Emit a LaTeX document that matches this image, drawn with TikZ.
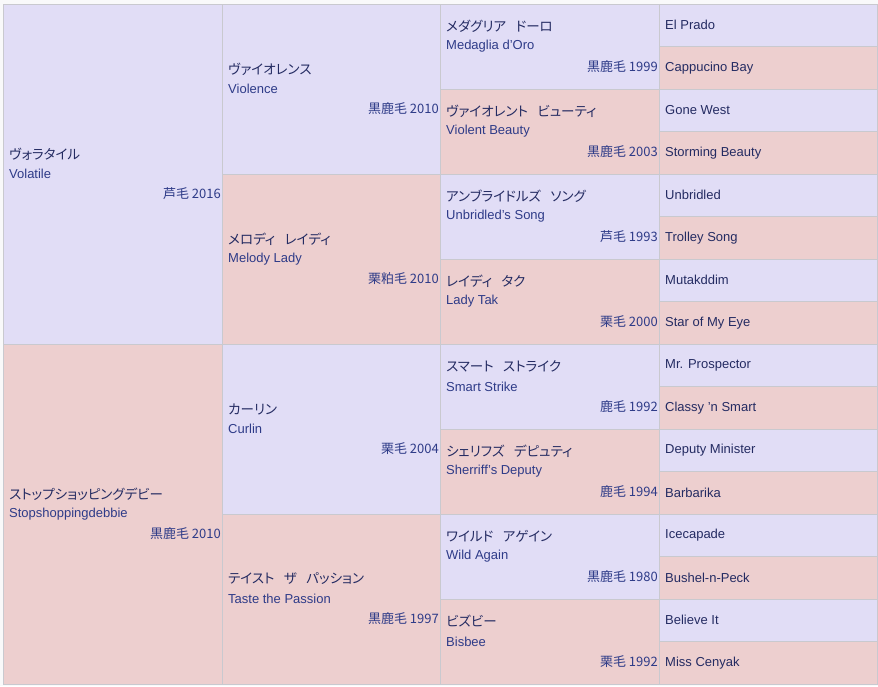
\documentclass[tikz,border=0pt]{standalone}
\usepackage{fontspec}
\setmainfont{Liberation Sans}
\newfontfamily\jpf[RawFeature=+palt]{Noto Sans CJK JP}
\newfontfamily\jpy{Noto Sans CJK JP}
\definecolor{lav}{HTML}{E1DDF6}
\definecolor{pnk}{HTML}{EDCFCF}
\definecolor{gridc}{HTML}{C9C9CF}
\definecolor{jtxt}{HTML}{242B62}
\definecolor{etxt}{HTML}{2E3B88}
\definecolor{pagebg}{HTML}{F9F9FA}
\newcommand\jsp{\hspace{0.7em}}
\tikzset{
  cellbox/.style={draw=gridc, line width=1pt, inner sep=0pt, outer sep=0pt},
  jpname/.style={anchor=west, inner sep=0pt, text=jtxt, font=\jpf\fontsize{13.5}{15}\selectfont},
  enname/.style={anchor=west, inner sep=0pt, text=etxt, font=\fontsize{13}{15}\selectfont},
  yeartxt/.style={anchor=east, inner sep=0pt, text=etxt, font=\jpy\fontsize{13}{15}\selectfont},
  leaftxt/.style={anchor=west, inner sep=0pt, text=jtxt, font=\fontsize{13}{15}\selectfont}
}
% #1 name, #2 x1, #3 x2, #4 y1, #5 y2, #6 fill, #7 jp, #8 en, #9 year
\newcommand\pcell[9]{%
  \node[cellbox, fill=#6, minimum width={(#3-#2)*1pt}, minimum height={(#5-#4)*1pt}] (#1) at ({(#2+#3)/2},{(#4+#5)/2}) {};
  \node[jpname] (#1j) at ({#2+6},{(#4+#5)/2-20}) {#7};
  \node[enname] (#1e) at ({#2+6},{(#4+#5)/2}) {#8};
  \node[yeartxt] (#1y) at ({#3-1},{(#4+#5)/2+20}) {#9};
}
% #1 name, #2 y1, #3 y2, #4 fill, #5 text
\newcommand\lcell[5]{%
  \node[cellbox, fill=#4, minimum width=218pt, minimum height={(#3-#2)*1pt}] (#1) at (768,{(#2+#3)/2}) {};
  \node[leaftxt] (#1t) at (665,{(#2+#3)/2}) {#5};
}
\begin{document}
\begin{tikzpicture}[x=1pt,y=-1pt]
\fill[pagebg] (0,0) rectangle (878,686);
\useasboundingbox (0,0) rectangle (878,686);
% generation 1
\pcell{a}{3}{222}{4}{344}{lav}{ヴォラタイル}{Volatile}{芦毛 2016}
\pcell{b}{3}{222}{344}{684}{pnk}{ストップショッピングデビー}{Stopshoppingdebbie}{黒鹿毛 2010}
% generation 2
\pcell{aa}{222}{440}{4}{174}{lav}{ヴァイオレンス}{Violence}{黒鹿毛 2010}
\pcell{ab}{222}{440}{174}{344}{pnk}{メロディ\jsp レイディ}{Melody Lady}{栗粕毛 2010}
\pcell{ba}{222}{440}{344}{514}{lav}{カーリン}{Curlin}{栗毛 2004}
\pcell{bb}{222}{440}{514}{684}{pnk}{テイスト\jsp ザ\jsp パッション}{Taste the Passion}{黒鹿毛 1997}
% generation 3
\pcell{aaa}{440}{659}{4}{89}{lav}{メダグリア\jsp ドーロ}{Medaglia d'Oro}{黒鹿毛 1999}
\pcell{aab}{440}{659}{89}{174}{pnk}{ヴァイオレント\jsp ビューティ}{Violent Beauty}{黒鹿毛 2003}
\pcell{aba}{440}{659}{174}{259}{lav}{アンブライドルズ\jsp ソング}{Unbridled's Song}{芦毛 1993}
\pcell{abb}{440}{659}{259}{344}{pnk}{レイディ\jsp タク}{Lady Tak}{栗毛 2000}
\pcell{baa}{440}{659}{344}{429}{lav}{スマート\jsp ストライク}{Smart Strike}{鹿毛 1992}
\pcell{bab}{440}{659}{429}{514}{pnk}{シェリフズ\jsp デピュティ}{Sherriff's Deputy}{鹿毛 1994}
\pcell{bba}{440}{659}{514}{599}{lav}{ワイルド\jsp アゲイン}{Wild Again}{黒鹿毛 1980}
\pcell{bbb}{440}{659}{599}{684}{pnk}{ビズビー}{Bisbee}{栗毛 1992}
% generation 4
\lcell{l1}{4}{46.5}{lav}{El Prado}
\lcell{l2}{46.5}{89}{pnk}{Cappucino Bay}
\lcell{l3}{89}{131.5}{lav}{Gone West}
\lcell{l4}{131.5}{174}{pnk}{Storming Beauty}
\lcell{l5}{174}{216.5}{lav}{Unbridled}
\lcell{l6}{216.5}{259}{pnk}{Trolley Song}
\lcell{l7}{259}{301.5}{lav}{Mutakddim}
\lcell{l8}{301.5}{344}{pnk}{Star of My Eye}
\lcell{l9}{344}{386.5}{lav}{Mr. Prospector}
\lcell{l10}{386.5}{429}{pnk}{Classy 'n Smart}
\lcell{l11}{429}{471.5}{lav}{Deputy Minister}
\lcell{l12}{471.5}{514}{pnk}{Barbarika}
\lcell{l13}{514}{556.5}{lav}{Icecapade}
\lcell{l14}{556.5}{599}{pnk}{Bushel-n-Peck}
\lcell{l15}{599}{641.5}{lav}{Believe It}
\lcell{l16}{641.5}{684}{pnk}{Miss Cenyak}
\end{tikzpicture}
\end{document}
